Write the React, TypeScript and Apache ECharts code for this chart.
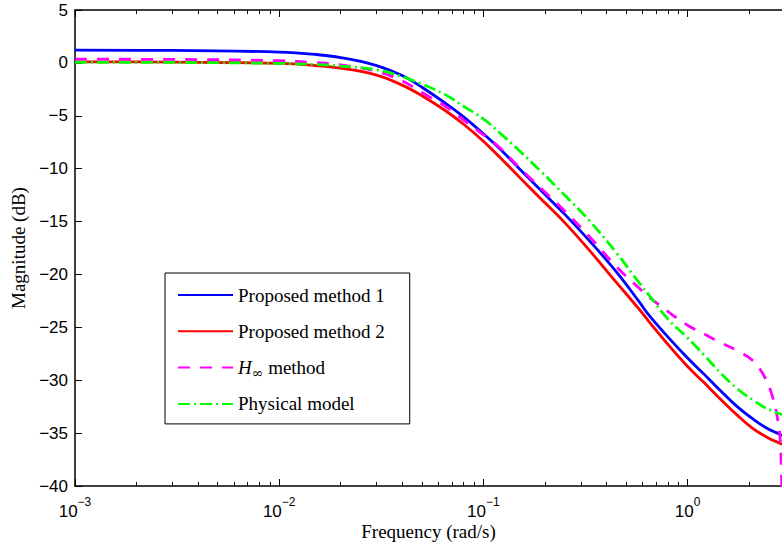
import React, { useEffect, useRef } from "react";
import * as echarts from "echarts";

// Frequency grid (rad/s)
const freq = [0.001, 0.003, 0.01, 0.015, 0.02, 0.03, 0.04, 0.05, 0.065, 0.08, 0.1, 0.12, 0.15, 0.19, 0.25, 0.33, 0.45, 0.58, 0.65, 0.8, 1.0, 1.2, 1.45, 1.75, 2.1, 2.4, 2.6, 2.75, 2.85, 2.9];

// Magnitudes (dB)
const method1 = [1.2, 1.18, 1.02, 0.8, 0.5, -0.25, -1.2, -2.3, -3.8, -5.1, -6.7, -8.1, -10.0, -12.0, -14.3, -16.8, -19.8, -22.6, -23.9, -25.9, -27.9, -29.4, -31.0, -32.5, -33.7, -34.45, -34.8, -35.0, -35.15, -35.25];
const method2 = [0.1, 0.08, -0.05, -0.25, -0.5, -1.15, -2.1, -3.1, -4.5, -5.8, -7.4, -8.9, -10.8, -12.8, -15.1, -17.7, -20.8, -23.3, -24.5, -26.6, -28.7, -30.2, -31.8, -33.3, -34.6, -35.3, -35.65, -35.85, -36.0, -36.05];
const hinf = [0.35, 0.33, 0.2, 0.02, -0.2, -0.8, -1.7, -2.8, -4.1, -5.4, -6.8, -8.0, -9.9, -11.8, -14.0, -16.4, -19.3, -21.3, -22.15, -23.5, -24.8, -25.6, -26.45, -27.2, -28.2, -29.8, -31.5, -33.5, -36.0, -42.0];
const physical = [0.05, 0.04, -0.05, -0.15, -0.3, -0.65, -1.3, -2.0, -3.0, -4.1, -5.3, -6.6, -8.3, -10.2, -12.5, -14.9, -18.0, -20.8, -22.0, -24.2, -26.0, -27.6, -29.3, -30.8, -31.9, -32.6, -32.9, -33.1, -33.2, -33.3];

const seriesNames = ["Proposed method 1", "Proposed method 2", "H\u221e method", "Physical model"];

// Axis ranges and ticks
const freqMin = 0.001;
const freqMax = 2.9;
const majorTickFreqs = [0.001, 0.01, 0.1, 1];
const minorTickFreqs = [
  0.002, 0.003, 0.004, 0.005, 0.006, 0.007, 0.008, 0.009,
  0.02, 0.03, 0.04, 0.05, 0.06, 0.07, 0.08, 0.09,
  0.2, 0.3, 0.4, 0.5, 0.6, 0.7, 0.8, 0.9,
  2,
];
const yMin = -40;
const yMax = 5;
const yStep = 5;

const toLog = (f: number) => Math.log10(f);
const mkData = (vals: number[]) => freq.map((f, i) => [toLog(f), vals[i]]);

export default function App() {
  const ref = useRef<HTMLDivElement>(null);

  useEffect(() => {
    if (!ref.current) return;
    const chart = echarts.init(ref.current, undefined, { renderer: "svg" });

    const xMinL = toLog(freqMin);
    const xMaxL = toLog(freqMax);
    const majorL = majorTickFreqs.map(toLog);
    const minorL = minorTickFreqs.map(toLog);

    const axisLineStyle = { color: "#000", width: 1.5 };
    const serif = "Liberation Serif";

    const baseX = {
      type: "value",
      min: xMinL,
      max: xMaxL,
      gridIndex: 0,
      splitLine: { show: false },
    };

    const lineSeries = (name: string, vals: number[], color: string, type: any) => ({
      name,
      type: "line",
      data: mkData(vals),
      showSymbol: false,
      symbol: "none",
      smooth: 0.4,
      lineStyle: { color, width: 2.8, type },
      itemStyle: { color },
    });

    const option: any = {
      animation: false,
      backgroundColor: "#fff",
      grid: {
        left: 75,
        top: 10,
        right: 0,
        bottom: 60,
        containLabel: false,
        outerBoundsMode: "none",
      },
      xAxis: [
        {
          ...baseX,
          position: "bottom",
          name: "Frequency (rad/s)",
          nameLocation: "middle",
          nameGap: 36,
          nameMoveOverlap: false,
          nameTextStyle: { fontFamily: serif, fontSize: 19, color: "#000" },
          axisLine: { show: true, onZero: false, lineStyle: axisLineStyle },
          axisTick: { show: true, inside: true, length: 7, customValues: majorL, lineStyle: { color: "#000", width: 1 } },
          axisLabel: {
            show: true,
            customValues: majorL,
            margin: 10,
            color: "#000",
            fontFamily: "Liberation Sans",
            fontSize: 17,
            formatter: (v: number) => "{b|10}{sup|" + String(Math.round(v)).replace("-", "\u2212") + "}",
            rich: {
              b: { fontFamily: "Liberation Sans", fontSize: 17, lineHeight: 24, verticalAlign: "bottom", color: "#000" },
              sup: { fontFamily: "Liberation Sans", fontSize: 12, lineHeight: 11, verticalAlign: "top", color: "#000" },
            },
          },
        },
        {
          ...baseX,
          position: "bottom",
          axisLine: { show: false, onZero: false },
          axisTick: { show: true, inside: true, length: 4, customValues: minorL, lineStyle: { color: "#000", width: 1 } },
          axisLabel: { show: false },
        },
        {
          ...baseX,
          position: "top",
          axisLine: { show: true, onZero: false, lineStyle: axisLineStyle },
          axisTick: { show: true, inside: true, length: 7, customValues: majorL, lineStyle: { color: "#000", width: 1 } },
          axisLabel: { show: false },
        },
        {
          ...baseX,
          position: "top",
          axisLine: { show: false, onZero: false },
          axisTick: { show: true, inside: true, length: 4, customValues: minorL, lineStyle: { color: "#000", width: 1 } },
          axisLabel: { show: false },
        },
      ],
      yAxis: [
        {
          type: "value",
          min: yMin,
          max: yMax,
          interval: yStep,
          position: "left",
          name: "Magnitude (dB)",
          nameLocation: "middle",
          nameGap: 46,
          nameTextStyle: { fontFamily: serif, fontSize: 19, color: "#000" },
          splitLine: { show: false },
          axisLine: { show: true, onZero: false, lineStyle: axisLineStyle },
          axisTick: { show: true, inside: true, length: 7, lineStyle: { color: "#000", width: 1 } },
          axisLabel: {
            margin: 7,
            color: "#000",
            fontFamily: "Liberation Sans",
            fontSize: 17,
            formatter: (v: number) => String(v).replace("-", "\u2212"),
          },
        },
      ],
      legend: {
        orient: "vertical",
        left: 165,
        top: 273,
        padding: [10, 25, 8, 12],
        itemGap: 12.3,
        itemWidth: 55,
        itemHeight: 14,
        borderColor: "#000",
        borderWidth: 1,
        backgroundColor: "#fff",
        itemStyle: { opacity: 0 },
        data: seriesNames,
        formatter: (name: string) => (name === seriesNames[2] ? "{i|H}{sub|\u221e} method" : name),
        textStyle: {
          fontFamily: serif,
          fontSize: 19,
          lineHeight: 24,
          color: "#000",
          rich: {
            i: { fontFamily: serif, fontSize: 19, fontStyle: "italic", lineHeight: 24, verticalAlign: "middle", color: "#000" },
            sub: { fontFamily: "DejaVu Serif", fontSize: 14, lineHeight: 12, verticalAlign: "bottom", color: "#000" },
          },
        },
      },
      series: [
        lineSeries(seriesNames[0], method1, "#0000ff", "solid"),
        lineSeries(seriesNames[1], method2, "#ff0000", "solid"),
        lineSeries(seriesNames[2], hinf, "#ff00ff", [12, 10]),
        lineSeries(seriesNames[3], physical, "#00ff00", [12, 4, 2, 4]),
      ],
    };

    chart.setOption(option);
    return () => chart.dispose();
  }, []);

  return <div ref={ref} style={{ width: 782, height: 546, position: "absolute", left: 0, top: 0 }} />;
}
